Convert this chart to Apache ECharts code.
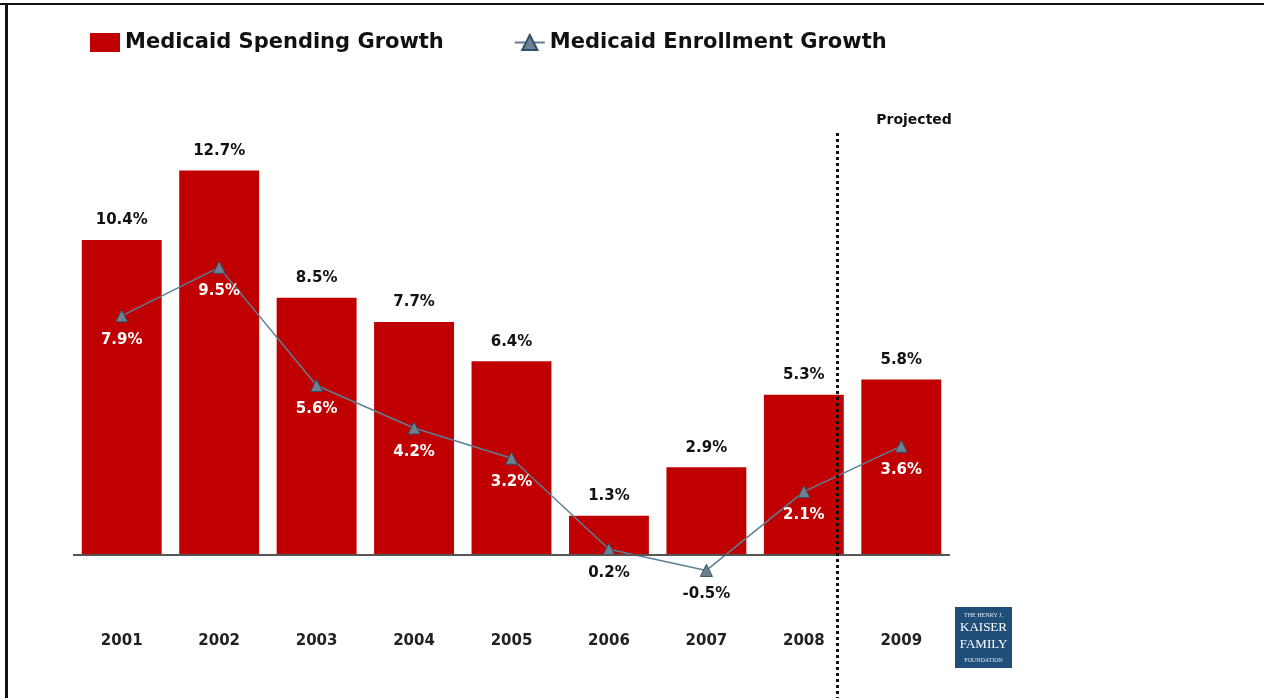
<!DOCTYPE html>
<html>
<head>
<meta charset="utf-8">
<script src="https://cdn.jsdelivr.net/npm/echarts@6/dist/echarts.min.js"></script>
<style>html,body{margin:0;padding:0;background:#fff;}#c{width:1264px;height:698px;}</style>
</head>
<body>
<div id="c"></div>
<script>
var years = ['2001','2002','2003','2004','2005','2006','2007','2008','2009'];
var spending = [10.4, 12.7, 8.5, 7.7, 6.4, 1.3, 2.9, 5.3, 5.8];
var enrollment = [7.9, 9.5, 5.6, 4.2, 3.2, 0.2, -0.5, 2.1, 3.6];
var spendingName = 'Medicaid Spending Growth';
var enrollmentName = 'Medicaid Enrollment Growth';
var projectedLabel = 'Projected';

var FONT = 'DejaVu Sans';
var chart = echarts.init(document.getElementById('c'), null, {renderer: 'canvas'});

var enrollData = enrollment.map(function (v, i) {
  var inside = v < spending[i] && v > 1;
  return {value: v, label: {color: inside ? '#ffffff' : '#111111'}};
});

chart.setOption({
  animation: false,
  backgroundColor: '#ffffff',
  grid: {left: 73, right: 314, top: 131, bottom: 67, outerBoundsMode: 'none', containLabel: false},
  legend: {
    left: 90, top: 32, padding: 0,
    itemGap: 70,
    itemWidth: 30, itemHeight: 19,
    textStyle: {fontFamily: FONT, fontWeight: 'bold', fontSize: 21, color: '#111'},
    data: [
      {name: spendingName, icon: 'rect'},
      {name: enrollmentName}
    ]
  },
  xAxis: {
    type: 'category',
    data: years,
    position: 'bottom',
    axisLine: {show: false, onZero: false},
    axisTick: {show: false},
    axisLabel: {margin: 3, fontFamily: FONT, fontWeight: 'bold', fontSize: 15, color: '#222'}
  },
  yAxis: {
    type: 'value', min: -2.5, max: 14, show: false,
    splitLine: {show: false}
  },
  series: [
    {
      name: spendingName,
      type: 'bar',
      data: spending,
      barCategoryGap: '18%',
      itemStyle: {color: '#c00000'},
      label: {
        show: true, position: 'top', distance: 12,
        formatter: function (p) { return p.value.toFixed(1) + '%'; },
        fontFamily: FONT, fontWeight: 'bold', fontSize: 15, color: '#111'
      },
      markLine: {
        silent: true, symbol: 'none', animation: false,
        label: {show: false},
        lineStyle: {color: '#555', width: 2, type: 'solid'},
        data: [{yAxis: 0}]
      },
      z: 2
    },
    {
      name: enrollmentName,
      type: 'line',
      data: enrollData,
      symbol: 'triangle',
      symbolSize: 12,
      lineStyle: {color: '#5b7f95', width: 1.5},
      itemStyle: {color: '#6e8190', borderColor: '#2f4f66', borderWidth: 1},
      label: {
        show: true, position: 'bottom', distance: 10,
        formatter: function (p) { return p.value.toFixed(1) + '%'; },
        fontFamily: FONT, fontWeight: 'bold', fontSize: 15
      },
      z: 4
    }
  ]
});

function drawExtras() {
  var p7 = chart.convertToPixel({xAxisIndex: 0}, 7);
  var p8 = chart.convertToPixel({xAxisIndex: 0}, 8);
  var lx = Math.round(p7 + (p8 - p7) * 0.34) + 0.5;
  var topY = chart.convertToPixel({yAxisIndex: 0}, 14);
  chart.setOption({
    graphic: [
      {type: 'rect', shape: {x: 0, y: 3, width: 1264, height: 2}, style: {fill: '#111'}, z: 100},
      {type: 'rect', shape: {x: 5, y: 3, width: 3, height: 698}, style: {fill: '#111'}, z: 100},
      {type: 'line', shape: {x1: lx, y1: topY + 2, x2: lx, y2: 698},
        style: {stroke: '#111', lineWidth: 3, lineDash: [3, 3], lineCap: 'butt'}, z: 50},
      {type: 'text', left: p8 - 25, top: topY - 18,
        style: {text: projectedLabel, font: 'bold 14px "DejaVu Sans"', fill: '#111'}, z: 50},
      {type: 'group', left: 955, top: 607, z: 50, children: [
        {type: 'rect', shape: {x: 0, y: 0, width: 57, height: 61}, style: {fill: '#1f4e79'}},
        {type: 'text', x: 28.5, y: 5, style: {text: 'THE HENRY J.', font: '6px "Liberation Serif"', fill: '#dfe8f0', align: 'center'}},
        {type: 'text', x: 28.5, y: 14, style: {text: 'KAISER', font: '13px "Liberation Serif"', fill: '#ffffff', align: 'center'}},
        {type: 'text', x: 28.5, y: 31, style: {text: 'FAMILY', font: '13px "Liberation Serif"', fill: '#ffffff', align: 'center'}},
        {type: 'text', x: 28.5, y: 50, style: {text: 'FOUNDATION', font: '6px "Liberation Serif"', fill: '#dfe8f0', align: 'center'}}
      ]}
    ]
  });
}
drawExtras();
</script>
</body>
</html>
